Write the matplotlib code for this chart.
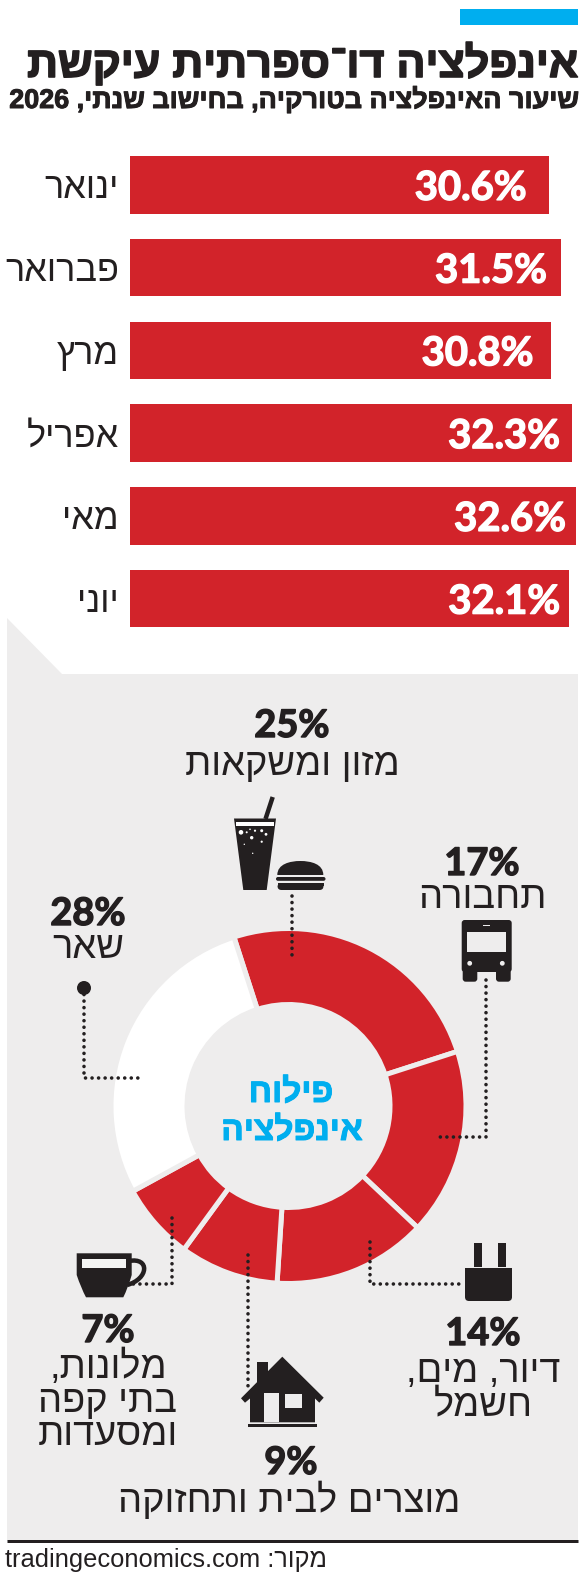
import re
import matplotlib
matplotlib.use('Agg')
import matplotlib.pyplot as plt
import matplotlib.patheffects as pe
from matplotlib.patches import Polygon, Rectangle, Circle, FancyBboxPatch, PathPatch
from matplotlib.path import Path

months = ['ינואר', 'פברואר', 'מרץ', 'אפריל', 'מאי', 'יוני']
inflation = [30.6, 31.5, 30.8, 32.3, 32.6, 32.1]

segments = ['מזון ומשקאות', 'תחבורה', 'דיור, מים, חשמל', 'מוצרים לבית ותחזוקה', 'מלונות, בתי קפה ומסעדות', 'שאר']
shares = [25, 17, 14, 9, 7, 28]

title = 'אינפלציה דו־ספרתית עיקשת'
subtitle = 'שיעור האינפלציה בטורקיה, בחישוב שנתי, 2026'
center_lines = ['פילוח', 'אינפלציה']
source = 'מקור: tradingeconomics.com'

RED = '#d2232a'
BLACK = '#231f20'
PANEL = '#eeeded'
BLUE = '#00aeef'
W, H = 587, 1577
HEBREW = ['Liberation Sans', 'DejaVu Sans']
NUMBERS = ['Lato', 'DejaVu Sans']

plt.rcParams['font.family'] = HEBREW


def rtl(s):
    # matplotlib has no bidi, so flip the string and put latin/digit runs back
    return re.sub(r'[A-Za-z0-9.]+', lambda m: m.group()[::-1], s[::-1])


def px_axes(fig, x0, y0, x1, y1, **kw):
    return fig.add_axes([x0 / W, 1 - y1 / H, (x1 - x0) / W, (y1 - y0) / H], **kw)


def px(v):
    return v * 0.72


def dotted(ax, xs, ys):
    ax.plot(xs, ys, color=BLACK, lw=2.6, ls=(0, (0.01, 1.8)), dash_capstyle='round')


def fit_width(t, width):
    # scale the font until the text spans the wanted number of pixels
    box = t.get_window_extent(fig.canvas.get_renderer())
    t.set_fontsize(t.get_fontsize() * width / box.width)


fig = plt.figure(figsize=(W / 100, H / 100), dpi=100, facecolor='white')

# background layer in pixel coordinates
bg = px_axes(fig, 0, 0, W, H)
bg.set_xlim(0, W)
bg.set_ylim(H, 0)
bg.axis('off')
bg.add_patch(Rectangle((460, 9), 118, 16, color=BLUE, lw=0))
bg.add_patch(Polygon([(7, 618), (62, 674), (578, 674), (578, 1541), (7, 1541)], color=PANEL, lw=0))
bg.plot([7, 578], [1541, 1541], color=BLACK, lw=px(3), solid_capstyle='butt')

# bars, 13.68 px per percentage point
bars = px_axes(fig, 130, 143.5, 578, 640)
bars.patch.set_alpha(0)
ypos = list(range(len(months)))
bars.barh(ypos, inflation, height=0.695, color=RED)
bars.set_xlim(0, 448 / 13.68)
bars.set_ylim(5.5, -0.5)
for s in bars.spines.values():
    s.set_visible(False)
bars.set_xticks([])
bars.set_yticks(ypos)
bars.set_yticklabels([rtl(m) for m in months], fontsize=px(36), color=BLACK)
bars.tick_params(axis='y', length=0, pad=px(11))
value_pad = [22, 14, 18, 12, 10, 9]
for y, v, p in zip(ypos, inflation, value_pad):
    bars.annotate(f'{v}%', (v, y), xytext=(-px(p), 0), textcoords='offset points',
                  ha='right', va='center_baseline', color='white', fontsize=px(40),
                  fontweight='bold', family=NUMBERS,
                  path_effects=[pe.withStroke(linewidth=px(1.4), foreground='white')])

# donut
donut = px_axes(fig, 288.5 - 177.5, 1106 - 177.5, 288.5 + 177.5, 1106 + 177.5)
donut.patch.set_alpha(0)
donut.pie(shares, startangle=107.9, counterclock=False,
          colors=[RED, RED, RED, RED, RED, 'white'],
          wedgeprops=dict(width=76 / 177.5, edgecolor=PANEL, linewidth=px(5)))
donut.set_xlim(-1, 1)
donut.set_ylim(-1, 1)

# text, leader lines and icons on top
top = px_axes(fig, 0, 0, W, H)
top.patch.set_alpha(0)
top.set_xlim(0, W)
top.set_ylim(H, 0)
top.axis('off')

heavy = [pe.withStroke(linewidth=px(1.6), foreground=BLACK)]
t1 = top.text(578, 77, rtl(title), ha='right', va='baseline', fontsize=px(46), fontweight='bold',
              color=BLACK, path_effects=heavy)
fit_width(t1, 551)
t2 = top.text(578, 108, rtl(subtitle), ha='right', va='baseline', fontsize=px(27), fontweight='bold',
              color=BLACK, path_effects=[pe.withStroke(linewidth=px(1), foreground=BLACK)])
fit_width(t2, 570)

blue_heavy = [pe.withStroke(linewidth=px(1), foreground=BLUE)]
top.text(291, 1102, rtl(center_lines[0]), ha='center', va='baseline', fontsize=px(33.5),
         fontweight='bold', color=BLUE, path_effects=blue_heavy)
top.text(292, 1140, rtl(center_lines[1]), ha='center', va='baseline', fontsize=px(33.5),
         fontweight='bold', color=BLUE, path_effects=blue_heavy)


def pct(x, y, v):
    top.text(x, y, f'{v}%', ha='center', va='baseline', fontsize=px(38), fontweight='bold',
             family=NUMBERS, color=BLACK, path_effects=[pe.withStroke(linewidth=px(1.4), foreground=BLACK)])


def lab(x, y, s):
    top.text(x, y, rtl(s), ha='center', va='baseline', fontsize=px(38), color=BLACK)


pct(292, 737, shares[0])
lab(292, 775, segments[0])
pct(482, 875, shares[1])
lab(482, 908, segments[1])
pct(483, 1345, shares[2])
lab(483, 1382, 'דיור, מים,')
lab(483, 1415, 'חשמל')
pct(291, 1474, shares[3])
lab(289, 1512, segments[3])
pct(108, 1342, shares[4])
lab(108, 1378, 'מלונות,')
lab(108, 1412, 'בתי קפה')
lab(108, 1445, 'ומסעדות')
pct(88, 925, shares[5])
lab(88, 958, segments[5])

top.text(5, 1567, rtl(source), ha='left', va='baseline', fontsize=px(25.5), color=BLACK)

# leader lines
dotted(top, [292, 292], [896, 958])
dotted(top, [486, 486, 438], [980, 1137, 1137])
dotted(top, [84, 84, 143], [988, 1078, 1078])
dotted(top, [370, 370, 462], [1242, 1284, 1284])
dotted(top, [172, 172, 132], [1218, 1284, 1284])
dotted(top, [248, 248], [1255, 1387])
top.add_patch(Circle((84, 988), 7, color=BLACK, lw=0))

# drink and burger
top.add_patch(Polygon([(234, 818.5), (276, 818.5), (266.7, 890), (243.3, 890)], color=BLACK, lw=0))
top.plot([265.5, 272.7], [819, 797], color=BLACK, lw=px(4.5), solid_capstyle='butt')
top.add_patch(Rectangle((236, 822.3), 38, 3.8, color='white', lw=0))
for bx, by, br in [(241, 832.3, 2.3), (246.7, 832.3, 1), (250, 829.3, 0.8), (255, 830.7, 1.1),
                   (261.7, 830.7, 1.5), (266, 834.3, 1.4), (251.7, 837.7, 1.7), (261.7, 841.7, 1.1),
                   (244.3, 844.3, 0.7), (252.7, 853.3, 0.7)]:
    top.add_patch(Circle((bx, by), br, color='white', lw=0))
top.add_patch(PathPatch(Path([(277.3, 875), (277.3, 864), (290, 861), (300.3, 861), (311, 861), (323.3, 864),
                              (323.3, 875), (277.3, 875)],
                             [Path.MOVETO, Path.CURVE4, Path.CURVE4, Path.CURVE4, Path.CURVE4, Path.CURVE4,
                              Path.CURVE4, Path.CLOSEPOLY]), color=BLACK, lw=0))
top.add_patch(FancyBboxPatch((276, 877), 49.5, 3.8, boxstyle='round,pad=0,rounding_size=1.9', color=BLACK, lw=0))
top.add_patch(FancyBboxPatch((277.5, 883), 46, 7, boxstyle='round,pad=0,rounding_size=4', color=BLACK, lw=0))
top.add_patch(Rectangle((277.5, 883), 46, 3, color=BLACK, lw=0))

# bus
top.add_patch(FancyBboxPatch((461.7, 920), 50, 52, boxstyle='round,pad=0,rounding_size=3', color=BLACK, lw=0))
top.add_patch(FancyBboxPatch((462.7, 965), 14.6, 16.7, boxstyle='round,pad=0,rounding_size=3', color=BLACK, lw=0))
top.add_patch(FancyBboxPatch((496, 965), 14.7, 16.7, boxstyle='round,pad=0,rounding_size=3', color=BLACK, lw=0))
top.add_patch(Rectangle((466.7, 931.7), 39.3, 20, color=PANEL, lw=0))
top.add_patch(Rectangle((483, 925), 7, 1.4, color=PANEL, lw=0))
top.add_patch(Circle((469.7, 963.3), 2.4, color=PANEL, lw=0))
top.add_patch(Circle((502.3, 963.3), 2.4, color=PANEL, lw=0))

# plug
top.add_patch(Rectangle((474, 1243), 8, 24, color=BLACK, lw=0))
top.add_patch(Rectangle((498, 1243), 8, 24, color=BLACK, lw=0))
top.add_patch(FancyBboxPatch((465, 1268), 47, 33, boxstyle='round,pad=0,rounding_size=4', color=BLACK, lw=0))
top.add_patch(Rectangle((465, 1268), 47, 8, color=BLACK, lw=0))

# coffee cup
top.add_patch(PathPatch(Path([(129, 1261), (150, 1257), (149, 1279), (127, 1285)],
                             [Path.MOVETO, Path.CURVE4, Path.CURVE4, Path.CURVE4]),
                        fill=False, edgecolor=BLACK, lw=px(4.5)))
top.add_patch(PathPatch(Path([(76.7, 1253.3), (131.7, 1253.3), (131.7, 1275), (128, 1288), (123.3, 1297.3),
                              (86, 1297.3), (81, 1288), (76.7, 1275), (76.7, 1253.3)],
                             [Path.MOVETO, Path.LINETO, Path.LINETO, Path.CURVE3, Path.CURVE3,
                              Path.LINETO, Path.CURVE3, Path.CURVE3, Path.CLOSEPOLY]), color=BLACK, lw=0))
top.add_patch(Rectangle((82.3, 1259), 43.4, 9.3, color='#f4f4f3', lw=0))

# house
top.add_patch(Rectangle((256.7, 1362.3), 11, 25, color=BLACK, lw=0))
top.add_patch(Polygon([(282.3, 1356.7), (323.7, 1397.7), (319.3, 1402.7), (315, 1398.5), (315, 1422.3),
                       (250, 1422.3), (250, 1398.5), (245, 1402.7), (241, 1398.3)], color=BLACK, lw=0))
top.add_patch(Rectangle((264, 1393.3), 15.3, 29, color=PANEL, lw=0))
top.add_patch(Rectangle((285, 1394), 16.7, 14.3, color=PANEL, lw=0))
top.add_patch(Rectangle((248, 1424.3), 68.7, 3, color=BLACK, lw=0))

fig.savefig('out.png', dpi=100, facecolor='white')
